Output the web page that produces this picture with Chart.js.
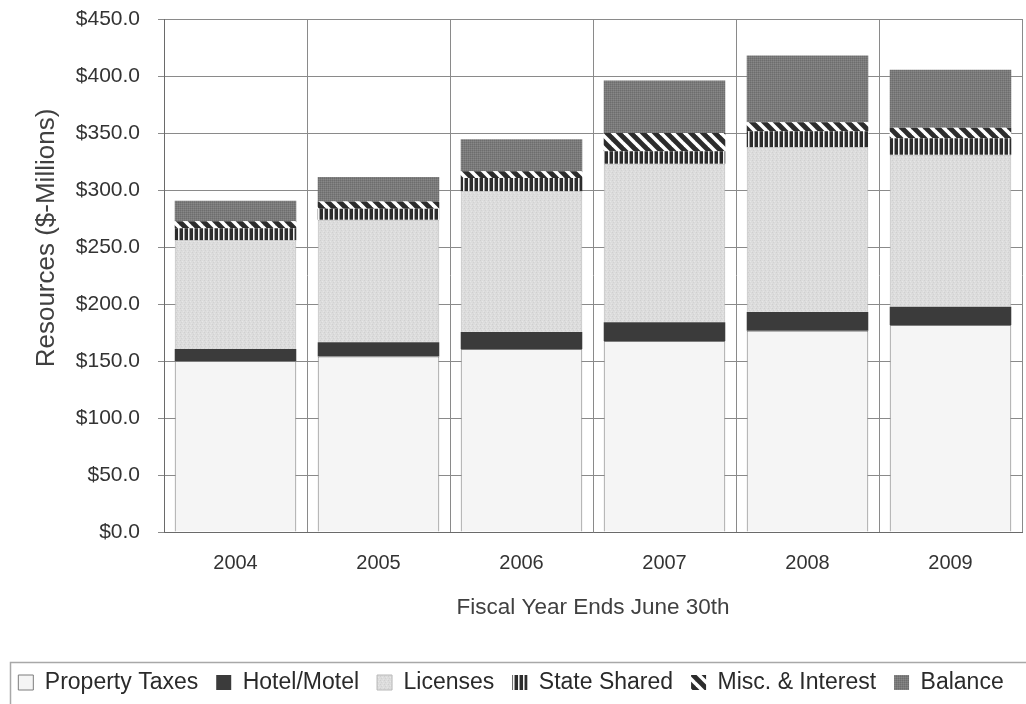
<!DOCTYPE html>
<html>
<head>
<meta charset="utf-8">
<script src="https://cdn.jsdelivr.net/npm/chart.js@4.4.1/dist/chart.umd.min.js"></script>
<style>
  html, body { margin: 0; padding: 0; background: #ffffff; overflow: hidden; }
  #wrap { position: relative; width: 1026px; height: 704px; }
</style>
</head>
<body>
<div id="wrap"><canvas id="c" width="1026" height="704"></canvas></div>
<script>
// Fiscal years and resources by source ($ millions)
const years = ['2004', '2005', '2006', '2007', '2008', '2009'];
const propertyTaxes = [150.0, 154.0, 160.5, 167.5, 176.5, 181.5];
const hotelMotel    = [10.5, 12.5, 15.0, 16.5, 16.5, 16.0];
const licenses      = [95.5, 107.5, 123.5, 139.0, 144.5, 133.5];
const stateShared   = [10.5, 9.5, 11.5, 11.0, 14.0, 14.5];
const miscInterest  = [6.0, 6.5, 6.0, 16.0, 8.0, 9.0];
const balance       = [18.0, 21.5, 28.0, 46.0, 58.5, 51.0];

const yTickValues = [0, 50, 100, 150, 200, 250, 300, 350, 400, 450];
const yTitle = 'Resources ($-Millions)';
const xTitle = 'Fiscal Year Ends June 30th';

const FONT = '"Liberation Sans", Arial, Helvetica, sans-serif';

// ---- fill patterns ----
function makeCanvas(w, h) {
  const c = document.createElement('canvas');
  c.width = w; c.height = h;
  return c;
}
function pixelPattern(w, h, base, dots) {
  const c = makeCanvas(w, h);
  const g = c.getContext('2d');
  g.fillStyle = base; g.fillRect(0, 0, w, h);
  dots.forEach(([x, y, col]) => { g.fillStyle = col; g.fillRect(x, y, 1, 1); });
  return g.createPattern(c, 'repeat');
}
function verticalStripes() {
  const c = makeCanvas(5, 4);
  const g = c.getContext('2d');
  g.fillStyle = '#2c2c2c'; g.fillRect(0, 0, 5, 4);
  g.fillStyle = '#f4f4f4'; g.fillRect(3, 0, 1, 4);
  g.fillStyle = '#9a9a9a'; g.fillRect(4, 0, 1, 4);
  return g.createPattern(c, 'repeat');
}
function diagonalStripes() {
  const s = 12;
  const c = makeCanvas(s, s);
  const g = c.getContext('2d');
  g.fillStyle = '#2c2c2c'; g.fillRect(0, 0, s, s);
  g.strokeStyle = '#ffffff'; g.lineWidth = 3.6;
  for (let k = -2; k <= 2; k++) {
    g.beginPath();
    g.moveTo(-4, -4 + k * s);
    g.lineTo(s + 4, s + 4 + k * s);
    g.stroke();
  }
  return g.createPattern(c, 'repeat');
}

const ctx = document.getElementById('c').getContext('2d');

const fills = {
  property: '#f5f5f5',
  hotel: '#3b3b3b',
  licenses: pixelPattern(4, 4, '#dcdcdc', [[0, 0, '#cfcfcf'], [2, 1, '#e6e6e6'], [1, 2, '#d2d2d2'], [3, 3, '#e4e4e4']]),
  state: verticalStripes(),
  misc: diagonalStripes(),
  balance: pixelPattern(2, 2, '#7a7a7a', [[0, 0, '#6d6d6d'], [1, 1, '#878787']])
};

// Framed legend and the rotated value-axis caption
const extras = {
  id: 'extras',
  afterDraw(chart) {
    const c = chart.ctx;
    const lg = chart.legend;
    c.save();
    c.strokeStyle = '#a8a8a8';
    c.lineWidth = 1.5;
    c.strokeRect(10.5, lg.top + 9.5, chart.width + 20, 80);
    c.translate(47, 238);
    c.rotate(-Math.PI / 2);
    c.font = '26px ' + FONT;
    c.fillStyle = '#404040';
    c.textAlign = 'center';
    c.textBaseline = 'middle';
    c.fillText(yTitle, 0, 0);
    c.restore();
  }
};

new Chart(ctx, {
  type: 'bar',
  data: {
    labels: years,
    datasets: [
      { label: 'Property Taxes', data: propertyTaxes, backgroundColor: fills.property, borderColor: '#7c7c7c', borderWidth: 1 },
      { label: 'Hotel/Motel', data: hotelMotel, backgroundColor: fills.hotel, borderColor: '#3b3b3b', borderWidth: 0 },
      { label: 'Licenses', data: licenses, backgroundColor: fills.licenses, borderColor: '#b8b8b8', borderWidth: 1 },
      { label: 'State Shared', data: stateShared, backgroundColor: fills.state, borderColor: '#2c2c2c', borderWidth: 0 },
      { label: 'Misc. & Interest', data: miscInterest, backgroundColor: fills.misc, borderColor: '#2c2c2c', borderWidth: 0 },
      { label: 'Balance', data: balance, backgroundColor: fills.balance, borderColor: '#777777', borderWidth: 0 }
    ]
  },
  options: {
    responsive: false,
    animation: false,
    devicePixelRatio: 1,
    categoryPercentage: 0.85,
    barPercentage: 1.0,
    layout: { padding: { top: 19, right: 4, bottom: 0, left: 0 } },
    plugins: {
      tooltip: { enabled: false },
      title: { display: false },
      legend: {
        position: 'bottom',
        labels: {
          font: { family: FONT, size: 23 },
          color: '#2a2a2a',
          boxWidth: 15,
          boxHeight: 15,
          padding: 18
        }
      }
    },
    scales: {
      x: {
        stacked: true,
        grid: { display: true, offset: true, color: '#8a8a8a', lineWidth: 1, drawTicks: false },
        border: { display: true, color: '#6a6a6a', width: 1 },
        ticks: { font: { family: FONT, size: 20 }, color: '#333333', padding: 19 },
        title: {
          display: true, text: xTitle, color: '#404040',
          font: { family: FONT, size: 22.5 },
          padding: { top: 0, bottom: 32 }
        },
        afterFit(scale) { scale.height = 121; }
      },
      y: {
        stacked: true,
        min: 0, max: 450,
        afterBuildTicks(scale) { scale.ticks = yTickValues.map(v => ({ value: v })); },
        grid: { color: '#8a8a8a', lineWidth: 1, drawTicks: true, tickLength: 6 },
        border: { display: true, color: '#6a6a6a', width: 1 },
        ticks: {
          font: { family: FONT, size: 21 }, color: '#333333', padding: 18,
          callback: v => '$' + Number(v).toFixed(1)
        },
        afterFit(scale) {
          scale.width = 164;
          scale.paddingTop = 0;
          scale.paddingBottom = 0;
        }
      }
    }
  },
  plugins: [extras]
});
</script>
</body>
</html>
